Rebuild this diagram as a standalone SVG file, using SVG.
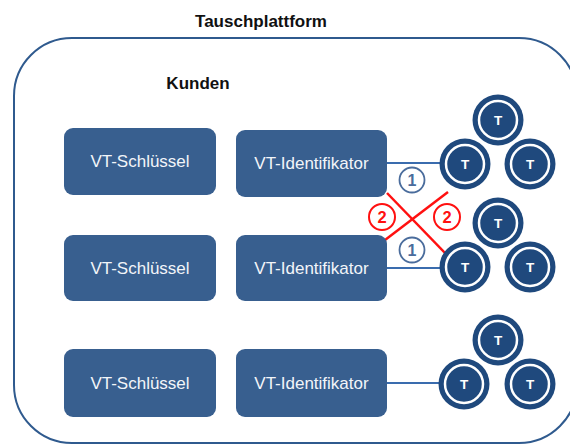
<svg xmlns="http://www.w3.org/2000/svg" width="570" height="445" viewBox="0 0 570 445">
<defs>
<style>
.title{font-family:"Liberation Sans",Arial,sans-serif;font-weight:bold;font-size:17px;fill:#111;text-anchor:middle}
.box{fill:#385f8f}
.btxt{font-family:"Liberation Sans",Arial,sans-serif;font-size:17px;fill:#f2f5f9;text-anchor:middle}
.tc{fill:#1f497d}
.tr{fill:none;stroke:#fff;stroke-width:2.5}
.tt{font-family:"Liberation Sans",Arial,sans-serif;font-weight:bold;font-size:13.5px;fill:#fff;text-anchor:middle}
.blue{stroke:#3a6cae;stroke-width:2.2;fill:none}
.red{stroke:#ff1010;stroke-width:2.5;fill:none}
.c1{fill:#fff;stroke:#4a6c9c;stroke-width:1.8}
.t1{font-family:"Liberation Sans",Arial,sans-serif;font-weight:bold;font-size:16px;fill:#4a6c9c;text-anchor:middle}
.c2{fill:#fff;stroke:#ff1010;stroke-width:2}
.t2{font-family:"Liberation Sans",Arial,sans-serif;font-weight:bold;font-size:16.5px;fill:#ff1010;text-anchor:middle}
</style>
<g id="tok">
<circle class="tc" r="25.5"/>
<circle class="tr" r="19"/>
<text class="tt" y="5">T</text>
</g>
</defs>
<rect width="570" height="445" fill="#fff"/>
<g id="platform">
<rect x="14" y="38" width="563" height="405" rx="58" ry="58" fill="none" stroke="#2f5a8e" stroke-width="2"/>
<text class="title" x="261" y="27">Tauschplattform</text>
</g>
<text class="title" x="198" y="89">Kunden</text>
<g id="connectors">
<line class="blue" x1="387" y1="163" x2="441" y2="163"/>
<line class="blue" x1="387" y1="268" x2="441" y2="268"/>
<line class="blue" x1="387" y1="383" x2="440" y2="383"/>
<line class="red" x1="387" y1="193" x2="448" y2="256"/>
<line class="red" x1="448" y1="192" x2="385" y2="240"/>
<circle class="c1" cx="412" cy="180" r="12.5"/>
<text class="t1" x="412" y="186">1</text>
<circle class="c1" cx="412" cy="250" r="12.5"/>
<text class="t1" x="412" y="256">1</text>
<circle class="c2" cx="382" cy="217" r="13"/>
<text class="t2" x="382" y="223">2</text>
<circle class="c2" cx="447" cy="217" r="13"/>
<text class="t2" x="447" y="223">2</text>
</g>
<g id="key1"><rect class="box" x="64" y="128" width="152" height="67" rx="9"/><text class="btxt" x="140" y="167">VT-Schlüssel</text></g>
<g id="id1"><rect class="box" x="236" y="130" width="151" height="67" rx="9"/><text class="btxt" x="311.5" y="169">VT-Identifikator</text></g>
<g id="key2"><rect class="box" x="64" y="235" width="152" height="66" rx="9"/><text class="btxt" x="140" y="274">VT-Schlüssel</text></g>
<g id="id2"><rect class="box" x="236" y="235" width="151" height="66" rx="9"/><text class="btxt" x="311.5" y="274">VT-Identifikator</text></g>
<g id="key3"><rect class="box" x="64" y="349" width="152" height="68" rx="9"/><text class="btxt" x="140" y="389">VT-Schlüssel</text></g>
<g id="id3"><rect class="box" x="236" y="349" width="151" height="68" rx="9"/><text class="btxt" x="311.5" y="389">VT-Identifikator</text></g>
<g id="tokens1">
<use href="#tok" x="498" y="120"/>
<use href="#tok" x="465" y="164"/>
<use href="#tok" x="530" y="164"/>
</g>
<g id="tokens2">
<use href="#tok" x="498" y="223"/>
<use href="#tok" x="465" y="267"/>
<use href="#tok" x="530" y="267"/>
</g>
<g id="tokens3">
<use href="#tok" x="498" y="340"/>
<use href="#tok" x="464" y="384"/>
<use href="#tok" x="530" y="384"/>
</g>
</svg>
